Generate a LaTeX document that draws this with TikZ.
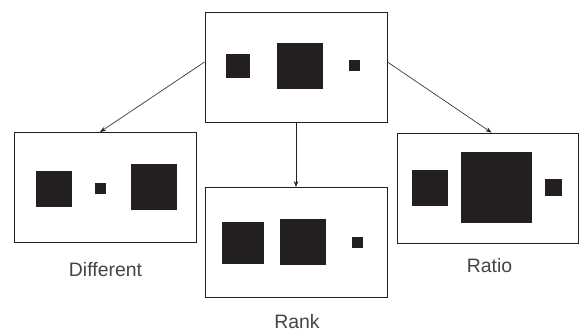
\documentclass[tikz,border=0pt]{standalone}
\usepackage{fontspec}
\setmainfont{Liberation Sans}
\usetikzlibrary{arrows.meta}

\definecolor{ink}{HTML}{231F20}
\definecolor{txt}{HTML}{444444}

\tikzstyle{frame} = [rectangle, draw=ink, line width=0.9bp, fill=white, sharp corners, minimum width=182bp, minimum height=110bp, inner sep=0pt]
\tikzstyle{sq} = [rectangle, fill=ink, draw=none, inner sep=0pt]
\tikzstyle{lab} = [text=txt, font=\fontsize{19.5}{22}\selectfont]
\tikzstyle{l} = [draw=ink, line width=0.6bp, -{Stealth[length=6bp,width=4.5bp]}]

\begin{document}
\begin{tikzpicture}[x=1bp, y=-1bp]
    \useasboundingbox (0,0) rectangle (579,332);
    % Place boxes
    \node [frame] (orig) at (296,67) {};
    \node [frame] (diff) at (105,187.5) {};
    \node [frame] (rank) at (296,242.5) {};
    \node [frame, minimum width=181bp] (ratio) at (487.5,188) {};

    % Squares
    \node [sq, minimum size=24bp] (o1) at (238,66) {};
    \node [sq, minimum size=46bp] (o2) at (300,66) {};
    \node [sq, minimum size=11bp] (o3) at (354.5,65.5) {};

    \node [sq, minimum size=36bp] (d1) at (54,189) {};
    \node [sq, minimum size=11bp] (d2) at (100.5,188.5) {};
    \node [sq, minimum size=46bp] (d3) at (154,187) {};

    \node [sq, minimum size=42bp] (k1) at (243,243) {};
    \node [sq, minimum size=46bp] (k2) at (303,242) {};
    \node [sq, minimum size=11bp] (k3) at (357.5,242.5) {};

    \node [sq, minimum size=36bp] (r1) at (430,188) {};
    \node [sq, minimum size=71bp] (r2) at (496.5,187.5) {};
    \node [sq, minimum size=17bp] (r3) at (553.5,187.5) {};

    % Labels
    \node [lab] (difflab) at (105.5,270) {Different};
    \node [lab] (ranklab) at (297,322) {Rank};
    \node [lab] (ratiolab) at (489.5,266) {Ratio};

    % Draw edges
    \path [l] ([yshift=5bp]orig.west) -- ([xshift=-5bp]diff.north);
    \path [l] (orig.south) -- (rank.north);
    \path [l] ([yshift=5bp]orig.east) -- ([xshift=4bp]ratio.north);

\end{tikzpicture}
\end{document}
